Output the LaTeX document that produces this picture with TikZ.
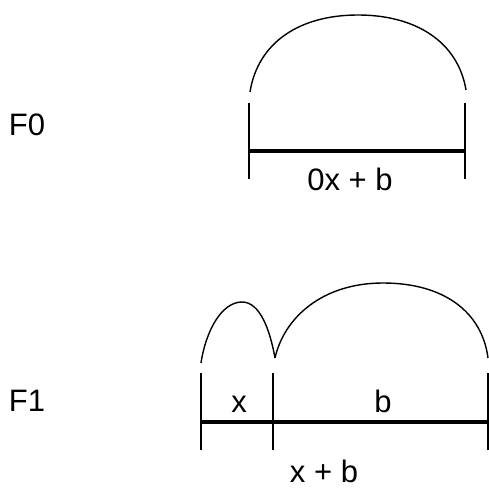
\documentclass[tikz,border=0pt]{standalone}
\usepackage{fontspec}
\setmainfont{Liberation Sans}
\usepackage{tikz}

\begin{document}
\begin{tikzpicture} %F0 und F1
      [
      x=1pt, y=-1pt,
      lbl/.style={font=\fontsize{31}{36}\selectfont, anchor=base, inner sep=0pt},
      tickline/.style={line width=1.4pt},
      barline/.style={line width=3.8pt},
      hop/.style={line width=1.4pt}
      ]
      \useasboundingbox (0,0) rectangle (489,487);
      % F0
      \node[lbl] (f0) at (27,135) {F0};
      \coordinate (p0t) at (249,103); \coordinate (p0) at (249,151); \coordinate (p0b) at (249,179);
      \coordinate (q0t) at (465,103); \coordinate (q0) at (465,151); \coordinate (q0b) at (465,179);
      \coordinate (h0a) at (250,92); \coordinate (h0m) at (358,15); \coordinate (h0b) at (466,90);
      \node[lbl] (s0) at (350,190) {0x + b};
      \draw[tickline] (p0t) -- (p0b);  \draw[tickline] (q0t) -- (q0b);
      \draw[barline] (p0) -- (q0);
      \draw[hop] (h0a) .. controls (258,42) and (300,15) .. (h0m) .. controls (416,15) and (458,42) .. (h0b);
      % F1
      \node[lbl] (f1) at (27,411) {F1};
      \coordinate (p1t) at (201,373); \coordinate (p1) at (201,422); \coordinate (p1b) at (201,450);
      \coordinate (m1t) at (273,373); \coordinate (m1) at (273,422); \coordinate (m1b) at (273,450);
      \coordinate (q1t) at (488,373); \coordinate (q1) at (488,422); \coordinate (q1b) at (488,450);
      \coordinate (h1a) at (201,363); \coordinate (h1m) at (242,302); \coordinate (h1b) at (275,358);
      \coordinate (h2m) at (383,283); \coordinate (h2b) at (488,358);
      \node[lbl] (sx) at (239,412) {x};
      \node[lbl] (sb) at (383,412) {b};
      \node[lbl] (s1) at (324,482) {x + b};
      \draw[tickline] (p1t) -- (p1b);  \draw[tickline] (m1t) -- (m1b); \draw[tickline] (q1t) -- (q1b);
      \draw[barline] (p1) -- (q1);
      \draw[hop] (h1a) .. controls (206,330) and (222,302) .. (h1m) .. controls (260,302) and (270,330) .. (h1b);
      \draw[hop] (h1b) .. controls (284,318) and (322,283) .. (h2m) .. controls (444,283) and (482,312) .. (h2b);
\end{tikzpicture}
\end{document}
